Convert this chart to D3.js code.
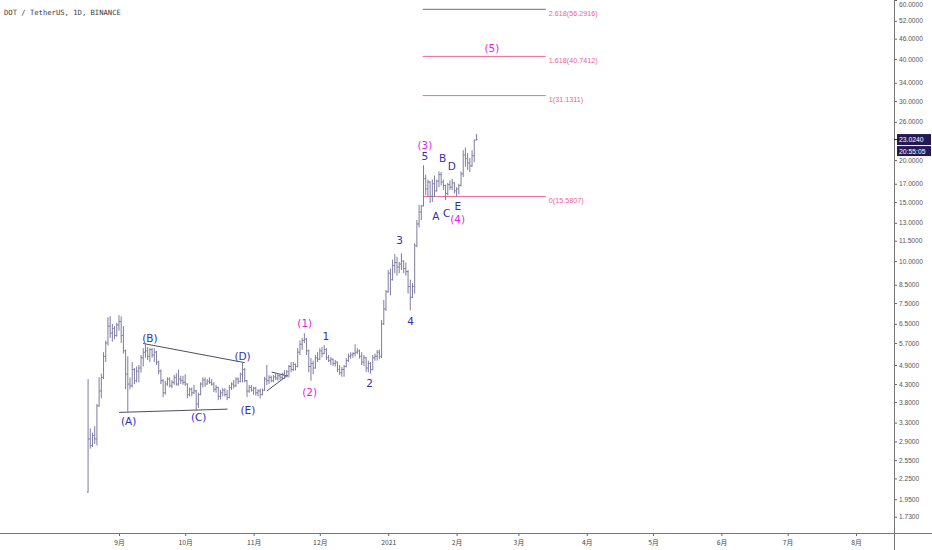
<!DOCTYPE html>
<html><head><meta charset="utf-8">
<script src="https://cdn.jsdelivr.net/npm/d3@7"></script>
<style>body{margin:0;background:#fff}svg{display:block}</style>
</head><body><svg id="c" width="932" height="550"></svg>
<script>
// ---- data: DOT/USDT daily OHLC, first bar 2020-08-18 ----
const firstDay = "2020-08-18";
const opens = [
2.05,2.95,2.82,3.02,2.95,3.70,4.10,4.50,5.20,5.70,
6.40,6.10,6.30,6.00,6.45,6.60,6.00,5.40,4.60,4.30,
4.25,4.75,4.40,4.70,4.80,5.15,5.35,5.40,5.20,5.45,
5.25,5.35,5.00,4.70,4.40,4.05,4.30,4.45,4.25,4.35,
4.50,4.30,4.45,4.40,4.35,4.30,4.00,4.15,4.05,4.10,
3.75,4.00,4.30,4.42,4.30,4.38,4.35,4.30,4.15,4.20,
3.95,4.05,4.12,4.00,3.92,4.20,4.30,4.25,4.45,4.38,
4.60,4.75,4.40,4.10,4.20,4.12,4.18,4.05,4.10,4.00,
4.12,4.45,4.40,4.50,4.40,4.52,4.48,4.55,4.50,4.60,
4.55,4.68,4.85,4.75,4.92,4.85,5.35,5.65,5.80,5.85,
5.40,4.85,4.95,4.80,5.15,5.10,5.40,5.30,5.45,5.15,
5.05,5.10,4.95,5.00,4.75,4.65,4.75,4.85,5.05,5.20,
5.25,5.30,5.35,5.40,5.20,5.00,5.15,4.80,4.95,4.75,
5.15,5.20,5.35,5.20,6.50,7.20,8.10,9.20,8.80,9.70,
9.90,9.60,9.80,10.00,9.50,9.30,8.40,7.80,8.40,11.10,
12.90,14.00,14.60,17.60,16.40,17.20,15.60,17.00,16.20,17.30,
18.10,17.20,16.80,15.90,16.90,16.60,17.10,16.20,16.40,16.80,
18.20,20.70,20.20,19.60,19.20,20.60,22.95];
const highs = [
4.45,3.17,3.08,3.22,3.75,4.50,4.62,5.35,5.80,6.80,
6.85,6.50,6.40,6.55,6.90,6.85,6.40,5.45,5.20,4.50,
5.00,4.80,4.85,4.90,5.25,5.50,5.65,5.55,5.50,5.50,
5.50,5.40,5.05,4.75,4.45,4.40,4.50,4.50,4.42,4.58,
4.63,4.75,4.55,4.55,4.60,4.32,4.20,4.20,4.27,4.13,
4.05,4.35,4.50,4.50,4.45,4.50,4.45,4.35,4.27,4.22,
4.13,4.18,4.18,4.13,4.27,4.35,4.42,4.50,4.50,4.65,
5.00,4.80,4.42,4.27,4.27,4.22,4.22,4.15,4.17,4.17,
4.52,4.90,4.57,4.55,4.57,4.62,4.62,4.58,4.65,4.73,
4.73,4.90,5.00,5.00,4.95,5.50,5.80,5.90,6.10,5.90,
5.45,5.14,5.05,5.25,5.35,5.50,5.55,5.62,5.50,5.25,
5.17,5.12,5.07,5.02,4.90,4.83,4.90,5.14,5.30,5.35,
5.35,5.65,5.50,5.45,5.35,5.25,5.17,5.05,5.00,5.25,
5.30,5.43,5.45,6.67,7.65,8.20,9.40,9.50,10.10,10.50,
10.30,9.95,10.55,10.05,9.90,9.40,8.80,8.60,11.30,13.25,
14.70,14.70,19.30,18.10,17.50,17.30,17.50,18.00,17.50,18.50,
18.40,17.50,16.90,17.10,17.40,17.60,17.20,16.60,17.00,18.50,
21.40,21.80,21.00,20.30,21.40,23.00,23.90];
const lows = [
2.04,2.76,2.79,2.85,2.82,3.68,3.90,4.45,5.00,5.60,
5.90,5.75,5.85,5.95,6.20,5.70,5.30,4.15,3.55,4.15,
4.20,4.30,4.35,4.35,4.65,4.85,5.15,5.07,5.00,5.15,
5.00,4.90,4.60,4.30,3.93,4.00,4.25,4.20,4.18,4.28,
4.25,4.25,4.30,4.28,4.25,3.90,3.95,3.95,4.02,3.60,
3.65,3.98,4.20,4.22,4.28,4.30,4.25,4.07,4.05,3.85,
3.87,3.95,3.95,3.85,3.90,4.13,4.17,4.22,4.30,4.35,
4.35,4.35,3.93,4.05,4.08,4.00,3.97,3.95,3.90,3.98,
4.10,4.27,4.30,4.35,4.35,4.42,4.40,4.42,4.42,4.45,
4.50,4.50,4.66,4.70,4.72,4.82,5.25,5.43,5.70,5.25,
4.66,4.40,4.60,4.78,5.00,5.07,5.17,5.28,5.07,5.00,
4.90,4.87,4.85,4.67,4.57,4.52,4.52,4.82,5.00,5.12,
5.15,5.20,5.28,5.12,4.90,4.87,4.67,4.66,4.62,4.72,
5.05,5.05,5.10,5.14,6.45,7.10,8.05,7.90,8.75,9.20,
9.05,9.20,9.40,9.20,9.05,8.00,7.14,7.75,8.00,11.00,
12.60,13.25,14.55,15.70,15.50,14.90,15.00,15.50,16.10,16.60,
16.80,16.30,15.20,15.70,16.30,16.30,15.90,15.58,15.80,16.70,
17.80,19.10,18.70,18.40,19.10,19.70,22.90];
const closes = [
2.95,2.82,3.02,2.95,3.70,4.10,4.50,5.20,5.70,6.40,
6.10,6.30,6.00,6.45,6.60,6.00,5.40,4.60,4.30,4.25,
4.75,4.40,4.70,4.80,5.15,5.35,5.40,5.20,5.45,5.25,
5.35,5.00,4.70,4.40,4.05,4.30,4.45,4.25,4.35,4.50,
4.30,4.45,4.40,4.35,4.30,4.00,4.15,4.05,4.10,3.75,
4.00,4.30,4.42,4.30,4.38,4.35,4.30,4.15,4.20,3.95,
4.05,4.12,4.00,3.92,4.20,4.30,4.25,4.45,4.38,4.60,
4.75,4.40,4.10,4.20,4.12,4.18,4.05,4.10,4.00,4.12,
4.45,4.40,4.50,4.40,4.52,4.48,4.55,4.50,4.60,4.55,
4.68,4.85,4.75,4.92,4.85,5.35,5.65,5.80,5.85,5.40,
4.85,4.95,4.80,5.15,5.10,5.40,5.30,5.45,5.15,5.05,
5.10,4.95,5.00,4.75,4.65,4.75,4.85,5.05,5.20,5.25,
5.30,5.35,5.40,5.20,5.00,5.15,4.80,4.95,4.75,5.15,
5.20,5.35,5.20,6.50,7.20,8.10,9.20,8.80,9.70,9.90,
9.60,9.80,10.00,9.50,9.30,8.40,7.80,8.40,11.10,12.90,
14.00,14.60,17.60,16.40,17.20,15.60,17.00,16.20,17.30,18.10,
17.20,16.80,15.90,16.90,16.60,17.10,16.20,16.40,16.80,18.20,
20.70,20.20,19.60,19.20,20.60,22.95,23.024];

// price axis ticks
const yTicks = [60,52,46,40,34,30,26,20,17,15,13,11.5,10,8.5,7.5,6.5,5.7,4.9,4.3,3.8,3.3,2.9,2.55,2.25,1.95,1.73];
// time axis ticks
const xTickDates = ["2020-09-01","2020-10-01","2020-11-01","2020-12-01","2021-01-01","2021-02-01","2021-03-01","2021-04-01","2021-05-01","2021-06-01","2021-07-01","2021-08-01"];
const xTickLabels = ["9月","10月","11月","12月","2021","2月","3月","4月","5月","6月","7月","8月"];

// Fibonacci extension
const fibRatios = ["0","1","1.618","2.618"];
const fibPrices = [15.5807,31.1311,40.7412,56.2916];
const fibFrom = "2021-01-16T16:00:00Z", fibTo = "2021-03-13T10:00:00Z";

// Elliott wave labels (day index from first bar, price)
const waveText  = ["(A)","(B)","(C)","(D)","(E)","(1)","(2)","1","2","3","4","(3)","5","A","B","C","D","E","(4)","(5)"];
const waveDay   = [18.4,28,50.1,70,72.4,98.2,100.4,107.7,127.6,141.2,146.2,152.6,152.6,157.6,160.7,162.5,164.8,167.5,167.5,183];
const wavePrice = [3.33,5.89,3.43,5.21,3.60,6.53,4.07,5.98,4.33,11.55,6.62,22.17,20.56,13.62,20.28,13.90,19.19,14.59,13.34,43.14];
const waveDegree= ["m","m","m","m","m","M","M","m","m","m","m","M","m","m","m","m","m","m","M","M"];

// trend lines [day1, price1, day2, price2]
const trendLines = [
  [24.9,5.68,71.0,4.98],
  [14.05,3.54,63.2,3.62],
  [83.2,4.67,90.5,4.54],
  [81.0,4.10,90.5,4.57]
];
const lastPrice = 23.024, countdown = "20:55:05";
const title = "DOT / TetherUS, 1D, BINANCE";

// ---- drawing ----
const svg = d3.select("#c");
const plotR = 894, plotB = 533;
const dayMs = 864e5;
const t0 = new Date(firstDay + "T00:00:00Z").getTime();
const dayToDate = d => new Date(t0 + d * dayMs);

const x = d3.scaleUtc()
  .domain([new Date(Date.UTC(2020,6,9,2)), new Date(Date.UTC(2021,7,18,5))])
  .range([0, plotR]);
const y = d3.scaleLog().domain([1.547, 60]).range([plotB, 0]);

svg.append("rect").attr("width",932).attr("height",550).attr("fill","#fff");
svg.append("defs").append("clipPath").attr("id","pc")
  .append("rect").attr("x",0).attr("y",0).attr("width",plotR).attr("height",plotB);
const plot = svg.append("g").attr("clip-path","url(#pc)");

// fib lines
const fibColors = ["#f06a96","#f06a96","#f06a96","#7a6570"];
fibPrices.forEach((p,i)=>{
  plot.append("line")
    .attr("x1", x(new Date(fibFrom))).attr("x2", x(new Date(fibTo)))
    .attr("y1", y(p)).attr("y2", y(p))
    .attr("stroke", fibColors[i]).attr("stroke-width",1);
  plot.append("text")
    .attr("x", x(new Date(fibTo)) + 3).attr("y", y(p) + 6.5)
    .attr("font-family","Liberation Sans, Arial, sans-serif").attr("font-size",7.2)
    .attr("fill","#f06292")
    .text(fibRatios[i] + "(" + p.toFixed(4) + ")");
});

// trend lines
plot.selectAll("line.tl").data(trendLines).enter().append("line")
  .attr("class","tl")
  .attr("x1", d=>x(dayToDate(d[0]))).attr("y1", d=>y(d[1]))
  .attr("x2", d=>x(dayToDate(d[2]))).attr("y2", d=>y(d[3]))
  .attr("stroke","#4e4d62").attr("stroke-width",1);

// OHLC bars
const bars = opens.map((o,i)=>({d:dayToDate(i), o, h:highs[i], l:lows[i], c:closes[i]}));
plot.append("path")
  .attr("d", bars.map(b=>{
    const cx = x(b.d);
    return `M${cx},${y(b.h)}V${y(b.l)}M${cx-1.1},${y(b.o)}H${cx}M${cx},${y(b.c)}H${cx+1.1}`;
  }).join(""))
  .attr("fill","none").attr("stroke","#7f7ca0").attr("stroke-width",1);

// wave labels
plot.selectAll("text.w").data(waveText).enter().append("text")
  .attr("class","w")
  .attr("x",(d,i)=>x(dayToDate(waveDay[i])))
  .attr("y",(d,i)=>y(wavePrice[i]))
  .attr("dy","0.36em")
  .attr("text-anchor","middle")
  .attr("font-family","DejaVu Sans, Verdana, sans-serif")
  .attr("font-size",10.5)
  .attr("fill",(d,i)=> waveDegree[i]==="M" ? "#e61ee0" : "#2f2fba")
  .text(d=>d);

// title
svg.append("text").attr("x",4).attr("y",15)
  .attr("font-family","DejaVu Sans Mono, monospace").attr("font-size",7.2)
  .attr("fill","#3a3a3a").text(title);

// y axis
const yAxis = d3.axisRight(y).tickValues(yTicks).tickFormat(d3.format(".4f")).tickSize(3).tickPadding(2);
const ga = svg.append("g").attr("transform",`translate(${plotR},0)`).call(yAxis);
ga.select(".domain").remove();
ga.selectAll("line").attr("stroke","#666");
ga.selectAll("text").attr("font-family","Liberation Sans, Arial, sans-serif").attr("font-size",6.6).attr("fill","#555");
// keep the topmost label inside the picture
ga.selectAll(".tick").filter(d=>y(d) < 4).select("text").attr("y", 4);
svg.append("line").attr("x1",plotR+0.5).attr("x2",plotR+0.5).attr("y1",0).attr("y2",550).attr("stroke","#777");

// x axis
const xAxis = d3.axisBottom(x)
  .tickValues(xTickDates.map(s=>new Date(s+"T00:00:00Z")))
  .tickFormat((d,i)=>xTickLabels[i]).tickSize(3).tickPadding(4);
const gx = svg.append("g").attr("transform",`translate(0,${plotB})`).call(xAxis);
gx.select(".domain").remove();
gx.selectAll("line").attr("stroke","#666");
gx.selectAll("text").attr("font-family","Noto Sans CJK SC, sans-serif").attr("font-size",6.8).attr("fill","#444");
svg.append("line").attr("x1",0).attr("x2",932).attr("y1",plotB+0.5).attr("y2",plotB+0.5).attr("stroke","#777");

// last price & countdown boxes
const yl = y(lastPrice);
svg.append("line").attr("x1",plotR).attr("x2",plotR+3).attr("y1",yl).attr("y2",yl).attr("stroke","#222");
svg.append("rect").attr("x",plotR+3).attr("y",yl-5.5).attr("width",34).attr("height",11).attr("fill","#231a55");
svg.append("text").attr("x",plotR+5).attr("y",yl+2.4).attr("font-family","Liberation Sans, Arial, sans-serif")
  .attr("font-size",6.8).attr("fill","#fff").text(lastPrice.toFixed(4));
svg.append("rect").attr("x",plotR+3).attr("y",yl+6.5).attr("width",34).attr("height",10).attr("fill","#231a55");
svg.append("text").attr("x",plotR+5).attr("y",yl+14).attr("font-family","Liberation Sans, Arial, sans-serif")
  .attr("font-size",6.8).attr("fill","#fff").text(countdown);
</script></body></html>
